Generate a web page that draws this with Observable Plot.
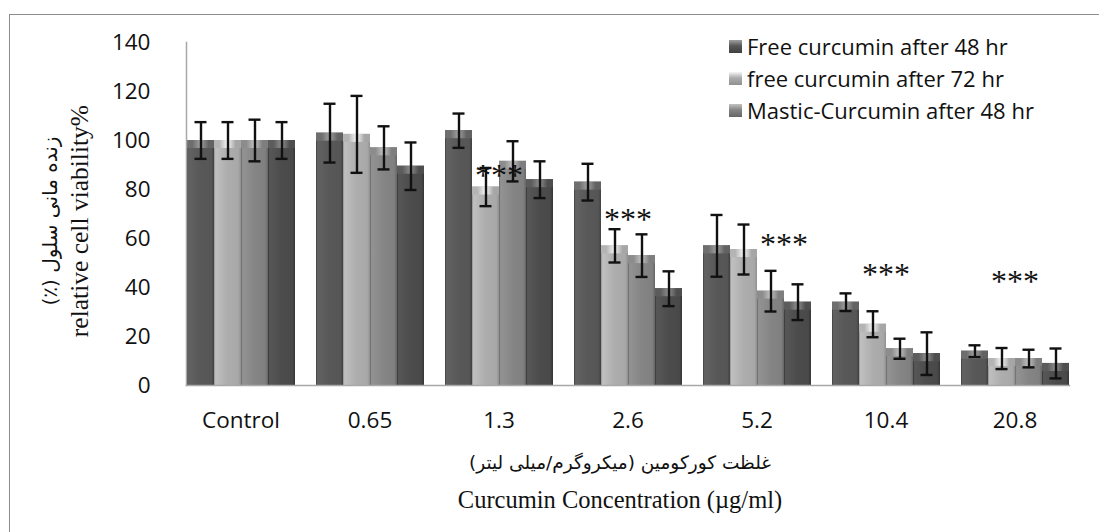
<!DOCTYPE html>
<html>
<head>
<meta charset="utf-8">
<script src="https://cdn.jsdelivr.net/npm/d3@7"></script>
<script src="https://cdn.jsdelivr.net/npm/@observablehq/plot@0.6"></script>
<style>
  html, body { margin: 0; padding: 0; background: #fff; }
  body { width: 1099px; height: 532px; position: relative; overflow: hidden; }
  #frame { position: absolute; left: 9px; top: 14px; width: 1200px; height: 700px; border: 1.5px solid #8c8c8c; box-sizing: border-box; }
  #chart { position: absolute; left: 0; top: 0; }
  .legend { position: absolute; left: 729px; top: 30px; font-family: "Open Sans", Lato, sans-serif; font-size: 22px; color: #111; }
  .legend .row { display: flex; align-items: center; height: 32px; }
  .legend .sw { width: 13px; height: 13px; margin-right: 5px; box-sizing: border-box; }
  .ytitle { position: absolute; left: 65px; top: 221px; transform: translate(-50%, -50%) rotate(-90deg); text-align: center; white-space: nowrap; font-family: "Liberation Serif", "DejaVu Serif", serif; color: #111; line-height: 30px; }
  .xtitle { position: absolute; left: 620px; transform: translate(-50%, -50%); white-space: nowrap; font-family: "Liberation Serif", "DejaVu Serif", serif; color: #111; }
</style>
</head>
<body>
<div id="frame"></div>
<div id="chart"></div>
<div class="legend" id="legend"></div>
<div class="ytitle"><div style="font-size:20px;font-family:'DejaVu Sans',sans-serif;" dir="rtl">زنده مانی سلول (٪)</div><div style="font-size:25.5px;">relative cell viability%</div></div>
<div class="xtitle" style="top:462px;font-size:18.5px;font-family:'DejaVu Sans',sans-serif;" dir="rtl">غلظت کورکومین  (میکروگرم/میلی لیتر)</div>
<div class="xtitle" style="top:500px;font-size:24.5px;">Curcumin Concentration (µg/ml)</div>
<script>
// ---- data ----
const groups = ["Control", "0.65", "1.3", "2.6", "5.2", "10.4", "20.8"];
const series = ["Free curcumin after 48 hr", "free curcumin after 72 hr", "Mastic-Curcumin after 48 hr", "Mastic-Curcumin after 72 hr"];
const legendSeries = ["Free curcumin after 48 hr", "free curcumin after 72 hr", "Mastic-Curcumin after 48 hr"];

const free48 = [100, 103, 104, 83, 57, 34, 14];
const free72 = [100, 102.5, 81, 57, 55.5, 25, 11];
const mastic48 = [100, 97, 91.5, 53, 38.5, 15, 11];
const mastic72 = [100, 89.5, 84, 39.5, 34, 13, 9];

const free48Err = [7.5, 12, 7, 7.5, 12.6, 3.6, 2.4];
const free72Err = [7.5, 15.7, 7.8, 6.8, 10.2, 5.3, 4.3];
const mastic48Err = [8.5, 8.8, 8.2, 8.7, 8.3, 4.1, 3.6];
const mastic72Err = [7.5, 9.7, 7.5, 7.1, 7.3, 8.7, 6.1];

const yTicks = [0, 20, 40, 60, 80, 100, 120, 140];

const sigGroups = ["1.3", "2.6", "5.2", "10.4", "20.8"];
const sigSeries = [series[1], series[1], series[2], series[1], series[1]];
const sigY = [86.8, 68.8, 58.7, 46.4, 43.6];

// ---- build table ----
const means = [free48, free72, mastic48, mastic72];
const errs = [free48Err, free72Err, mastic48Err, mastic72Err];
const rows = [];
groups.forEach((g, gi) => series.forEach((s, si) => rows.push({group: g, series: s, value: means[si][gi], err: errs[si][gi]})));
const sig = sigGroups.map((g, i) => ({group: g, series: sigSeries[i], y: sigY[i]}));

const bodyGrad = [
  ["#626262", "#585858", "#565656", "#404040"],
  ["#c0c0c0", "#adadad", "#a8a8a8", "#909090"],
  ["#939393", "#858585", "#808080", "#656565"],
  ["#575757", "#4c4c4c", "#494949", "#353535"]
];
const bevelGrad = [
  ["#6e6e6e", "#a0a0a0", "#626262"],
  ["#b4b4b4", "#f6f6f6", "#a6a6a6"],
  ["#8c8c8c", "#c2c2c2", "#7e7e7e"],
  ["#5c5c5c", "#8e8e8e", "#4e4e4e"]
];

const plot = Plot.plot({
  width: 1099,
  height: 532,
  marginLeft: 174,
  marginRight: 17,
  marginTop: 42,
  marginBottom: 147,
  style: {fontFamily: "'Open Sans', Lato, sans-serif", fontSize: "22.5px", color: "#111", background: "transparent"},
  fx: {domain: groups, paddingInner: 0.154, paddingOuter: 0.077, label: null, axis: "bottom", tickSize: 0, tickPadding: 27},
  x: {domain: series, axis: null, padding: 0},
  y: {domain: [0, 140], ticks: yTicks, tickSize: 0, tickPadding: 36, label: null, fontSize: 23.5},
  color: {domain: series, range: series.map((s, i) => `url(#body${i})`)},
  marks: [
    Plot.barY(rows, {fx: "group", x: "series", y: "value", fill: "series"}),
    Plot.barY(rows, {fx: "group", x: "series", y1: "value", y2: "value", insetBottom: -8, fill: d => `url(#bevel${series.indexOf(d.series)})`}),
    Plot.ruleX(rows, {fx: "group", x: "series", y1: d => d.value - d.err, y2: d => d.value + d.err, stroke: "#111", strokeWidth: 2.4}),
    Plot.tickY(rows, {fx: "group", x: "series", y: d => d.value - d.err, stroke: "#111", strokeWidth: 2.4, inset: 7.5}),
    Plot.tickY(rows, {fx: "group", x: "series", y: d => d.value + d.err, stroke: "#111", strokeWidth: 2.4, inset: 7.5}),
    Plot.text(sig, {fx: "group", x: "series", y: "y", text: () => "***", dx: 13, dy: 3, fontSize: 32, fontFamily: "Liberation Serif, serif", fill: "#111"}),
    Plot.frame({anchor: "bottom", facet: "super", stroke: "#a8a8a8", strokeWidth: 1.5}),
    Plot.frame({anchor: "left", facet: "super", stroke: "#a8a8a8", strokeWidth: 1.5})
  ]
});

const svg = d3.select(plot);
const defs = svg.insert("defs", ":first-child");
bodyGrad.forEach((c, i) => {
  const g = defs.append("linearGradient").attr("id", `body${i}`).attr("x1", 0).attr("x2", 1).attr("y1", 0).attr("y2", 0);
  g.append("stop").attr("offset", 0).attr("stop-color", c[3]);
  g.append("stop").attr("offset", 0.06).attr("stop-color", c[0]);
  g.append("stop").attr("offset", 0.5).attr("stop-color", c[1]);
  g.append("stop").attr("offset", 0.9).attr("stop-color", c[2]);
  g.append("stop").attr("offset", 1).attr("stop-color", c[3]);
});
bevelGrad.forEach((c, i) => {
  const g = defs.append("linearGradient").attr("id", `bevel${i}`).attr("x1", 0).attr("x2", 1).attr("y1", 0).attr("y2", 0);
  g.append("stop").attr("offset", 0).attr("stop-color", c[0]);
  g.append("stop").attr("offset", 0.2).attr("stop-color", c[0]);
  g.append("stop").attr("offset", 0.5).attr("stop-color", c[1]);
  g.append("stop").attr("offset", 0.8).attr("stop-color", c[2]);
  g.append("stop").attr("offset", 1).attr("stop-color", c[2]);
});
document.getElementById("chart").appendChild(plot);

// legend
const lg = document.getElementById("legend");
legendSeries.forEach(s => {
  const i = series.indexOf(s);
  const row = document.createElement("div");
  row.className = "row";
  const sw = document.createElement("div");
  sw.className = "sw";
  sw.style.background = `linear-gradient(to bottom, ${bevelGrad[i][1]} 0%, ${bodyGrad[i][1]} 45%, ${bodyGrad[i][3]} 100%)`;
  const t = document.createElement("span");
  t.textContent = s;
  row.appendChild(sw);
  row.appendChild(t);
  lg.appendChild(row);
});
</script>
</body>
</html>
